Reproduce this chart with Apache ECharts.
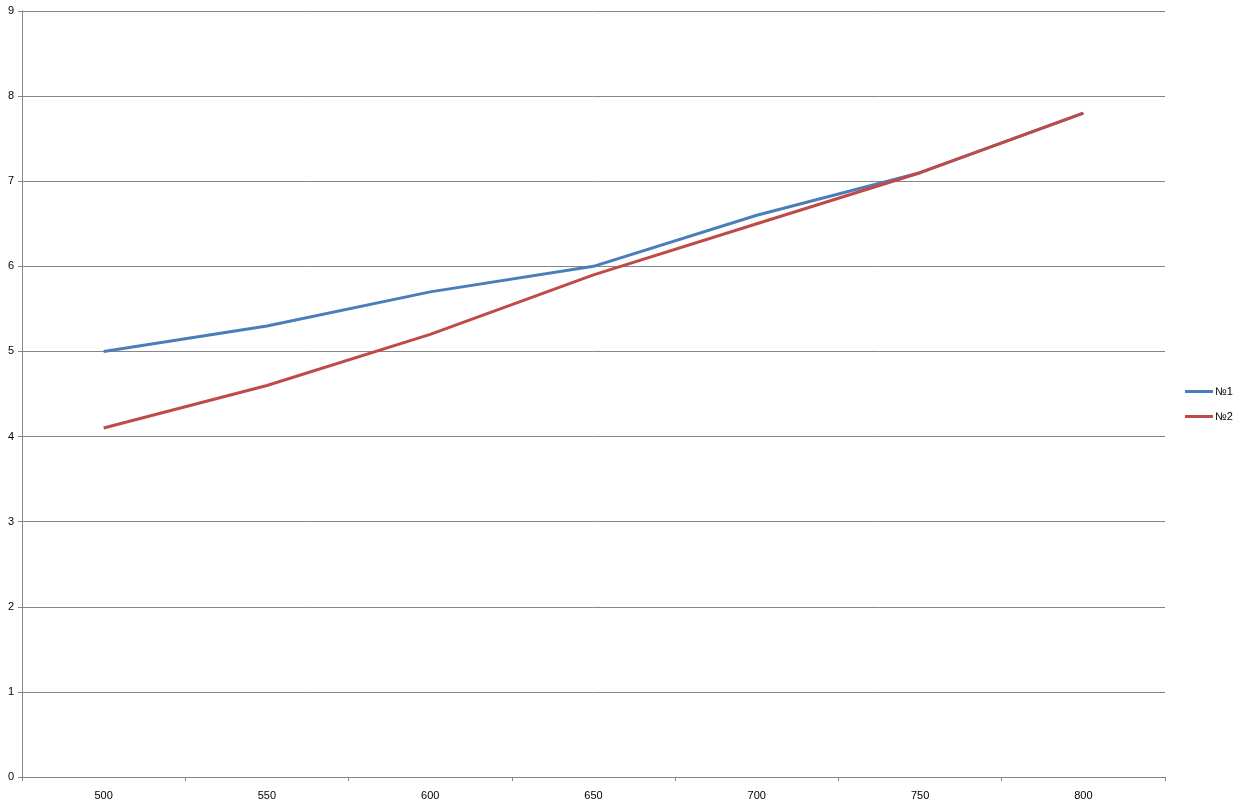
<!DOCTYPE html>
<html><head><meta charset="utf-8">
<script src="https://cdn.jsdelivr.net/npm/echarts@6/dist/echarts.min.js"></script>
<style>html,body{margin:0;padding:0;background:#fff}#c{width:1244px;height:808px}</style>
</head><body><div id="c"></div>
<script>
var categories = ['500','550','600','650','700','750','800'];
var series1 = [5.0, 5.3, 5.7, 6.0, 6.6, 7.1, 7.8];
var series2 = [4.1, 4.6, 5.2, 5.9, 6.5, 7.1, 7.8];
var seriesNames = ['№1','№2'];
var chart = echarts.init(document.getElementById('c'));
var font = 'Liberation Sans, Arial, sans-serif';
chart.setOption({
  animation:false,
  grid:{left:22,right:79,top:11,bottom:31,containLabel:false},
  legend:{orient:'vertical',left:1180,top:381,itemWidth:28,itemHeight:3,itemGap:14,icon:'rect',
    textStyle:{fontFamily:font,fontSize:11,color:'#000',padding:[0,0,0,-3]},
    data:seriesNames},
  xAxis:{type:'category',data:categories,boundaryGap:true,
    axisLine:{lineStyle:{color:'#868686',width:1}},
    axisTick:{show:true,length:4,inside:false,lineStyle:{color:'#868686'},alignWithLabel:false},
    axisLabel:{fontFamily:font,fontSize:11,color:'#000',margin:13},
    splitLine:{show:false}},
  yAxis:{type:'value',min:0,max:9,interval:1,
    axisLine:{show:true,lineStyle:{color:'#868686',width:1}},
    axisTick:{show:true,length:4,lineStyle:{color:'#868686'}},
    axisLabel:{fontFamily:font,fontSize:11,color:'#000',margin:8},
    splitLine:{lineStyle:{color:'#868686',width:1}}},
  series:[
    {name:seriesNames[0],type:'line',data:series1,symbol:'none',lineStyle:{color:'#4a7ebb',width:3},itemStyle:{color:'#4a7ebb'}},
    {name:seriesNames[1],type:'line',data:series2,symbol:'none',lineStyle:{color:'#be4b48',width:3},itemStyle:{color:'#be4b48'}}
  ]
});
</script></body></html>
